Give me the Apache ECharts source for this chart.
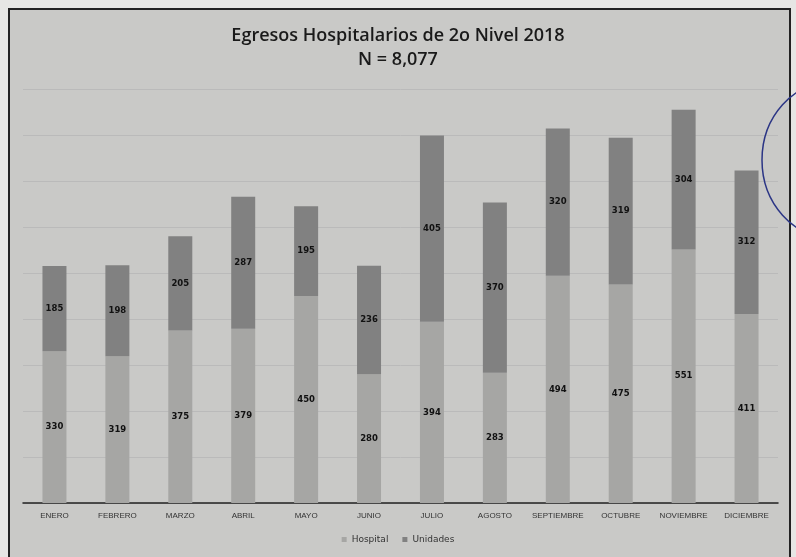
<!DOCTYPE html>
<html><head><meta charset="utf-8">
<script src="https://cdn.jsdelivr.net/npm/echarts@6/dist/echarts.min.js"></script>
<style>html,body{margin:0;padding:0;background:#e6e6e4;}#c{width:796px;height:557px;}</style>
</head><body><div id="c"></div>
<script>
const categories = ['ENERO','FEBRERO','MARZO','ABRIL','MAYO','JUNIO','JULIO','AGOSTO','SEPTIEMBRE','OCTUBRE','NOVIEMBRE','DICIEMBRE'];
const hospital = [330, 319, 375, 379, 450, 280, 394, 283, 494, 475, 551, 411];
const unidades = [185, 198, 205, 287, 195, 236, 405, 370, 320, 319, 304, 312];
const titleText = 'Egresos Hospitalarios de 2o Nivel 2018';
const subText = 'N = 8,077';

const chart = echarts.init(document.getElementById('c'), null, {renderer:'canvas'});
const lbl = {show:true, position:'inside', color:'#111', fontSize:8.5, fontWeight:'bold', fontFamily:'DejaVu Sans'};
chart.setOption({
  backgroundColor:'#e6e6e4',
  animation:false,
  graphic:[
    {type:'rect', shape:{x:9, y:9, width:781, height:560}, style:{fill:'#c9c9c7', stroke:'#222', lineWidth:2}, z:-10},
    {type:'ellipse', shape:{cx:832, cy:160, rx:70, ry:78}, style:{fill:'none', stroke:'#2b3585', lineWidth:1.5}, z:100}
  ],
  title:{
    text:titleText, subtext:subText, left:'center', top:22, itemGap:6,
    textStyle:{fontFamily:'Open Sans', fontSize:18, fontWeight:600, color:'#1a1a1a'},
    subtextStyle:{fontFamily:'Open Sans', fontSize:18, fontWeight:600, color:'#1a1a1a'}
  },
  legend:{
    bottom:8, left:'center', icon:'rect', itemWidth:5, itemHeight:5, itemGap:14,
    textStyle:{fontFamily:'DejaVu Sans', fontSize:9, color:'#333'},
    data:['Hospital','Unidades']
  },
  grid:{left:23, right:18, top:89, bottom:54},
  xAxis:{
    type:'category', data:categories,
    axisLine:{lineStyle:{color:'#222', width:1.5}},
    axisTick:{show:false},
    axisLabel:{interval:0, fontFamily:'Liberation Sans', fontSize:8, color:'#333', margin:9}
  },
  yAxis:{
    type:'value', min:0, max:900, interval:100,
    axisLabel:{show:false}, axisLine:{show:false}, axisTick:{show:false},
    splitLine:{lineStyle:{color:'#bababa', width:1}}
  },
  series:[
    {name:'Hospital', type:'bar', stack:'t', data:hospital, barWidth:24, itemStyle:{color:'#a6a6a4'}, label:lbl},
    {name:'Unidades', type:'bar', stack:'t', data:unidades, barWidth:24, itemStyle:{color:'#818181'}, label:lbl}
  ]
});
</script></body></html>
